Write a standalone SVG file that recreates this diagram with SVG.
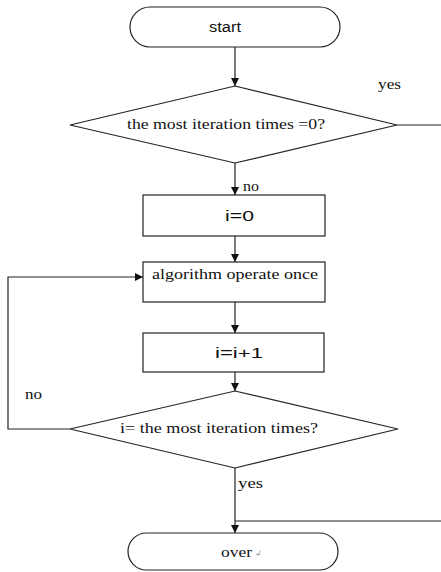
<svg xmlns="http://www.w3.org/2000/svg" width="441" height="572" viewBox="0 0 441 572">
  <style>
    .shape { fill: #fff; stroke: #222; stroke-width: 1.2; }
    .line { fill: none; stroke: #222; stroke-width: 1.2; }
    .t { font-family: "Liberation Serif", "Times New Roman", serif; font-size: 15px; fill: #111; }
    .s { font-family: "Liberation Sans", Arial, sans-serif; font-size: 14px; fill: #111; }
    .mark { font-family: "DejaVu Sans", sans-serif; font-size: 8px; fill: #999; }
  </style>
  <defs>
    <marker id="arrow" viewBox="0 0 10 10" refX="10" refY="5" markerWidth="8" markerHeight="9" markerUnits="userSpaceOnUse" orient="auto">
      <path d="M0,0 L10,5 L0,10 Z" fill="#111"/>
    </marker>
  </defs>
  <rect width="441" height="572" fill="#fff"/>

  <g id="connectors">
    <line class="line" x1="235" y1="47" x2="235" y2="86" marker-end="url(#arrow)"/>
    <line class="line" x1="397" y1="125" x2="441" y2="125"/>
    <line class="line" x1="235" y1="163" x2="235" y2="195" marker-end="url(#arrow)"/>
    <line class="line" x1="235" y1="236" x2="235" y2="262" marker-end="url(#arrow)"/>
    <line class="line" x1="235" y1="302" x2="235" y2="333" marker-end="url(#arrow)"/>
    <line class="line" x1="235" y1="372" x2="235" y2="391" marker-end="url(#arrow)"/>
    <polyline class="line" points="70,429 8,429 8,277 143,277" marker-end="url(#arrow)"/>
    <line class="line" x1="235" y1="468" x2="235" y2="533" marker-end="url(#arrow)"/>
    <line class="line" x1="441" y1="521" x2="235" y2="521"/>
    <text class="t" x="378" y="89" textLength="23" lengthAdjust="spacingAndGlyphs">yes</text>
    <text class="t" x="243" y="191" textLength="16" lengthAdjust="spacingAndGlyphs">no</text>
    <text class="t" x="25" y="399" textLength="17" lengthAdjust="spacingAndGlyphs">no</text>
    <text class="t" x="238" y="488" textLength="25" lengthAdjust="spacingAndGlyphs">yes</text>
  </g>

  <g id="start">
    <rect class="shape" x="130" y="7" width="210" height="40" rx="20" ry="20"/>
    <text class="s" x="209" y="32" textLength="32" lengthAdjust="spacingAndGlyphs">start</text>
  </g>

  <g id="check-zero">
    <polygon class="shape" points="235,86 397,125 235,163 70,125"/>
    <text class="t" x="127" y="129" textLength="198" lengthAdjust="spacingAndGlyphs">the most iteration times =0?</text>
  </g>

  <g id="init">
    <rect class="shape" x="143" y="195" width="182" height="41"/>
    <text class="s" x="225" y="221" textLength="29" lengthAdjust="spacingAndGlyphs">i=0</text>
  </g>

  <g id="operate">
    <rect class="shape" x="143" y="262" width="182" height="40"/>
    <text class="t" x="152" y="279" textLength="166" lengthAdjust="spacingAndGlyphs">algorithm operate once</text>
  </g>

  <g id="increment">
    <rect class="shape" x="143" y="333" width="181" height="39"/>
    <text class="s" x="215" y="358" textLength="48" lengthAdjust="spacingAndGlyphs">i=i+1</text>
  </g>

  <g id="check-max">
    <polygon class="shape" points="235,391 398,429 235,468 70,429"/>
    <text class="t" x="120" y="433" textLength="198" lengthAdjust="spacingAndGlyphs">i= the most iteration times?</text>
  </g>

  <g id="over">
    <rect class="shape" x="128" y="533" width="210" height="37" rx="18.5" ry="18.5"/>
    <text class="t" x="221" y="557" textLength="31" lengthAdjust="spacingAndGlyphs">over</text>
    <text class="mark" x="255" y="556">↲</text>
  </g>
</svg>
